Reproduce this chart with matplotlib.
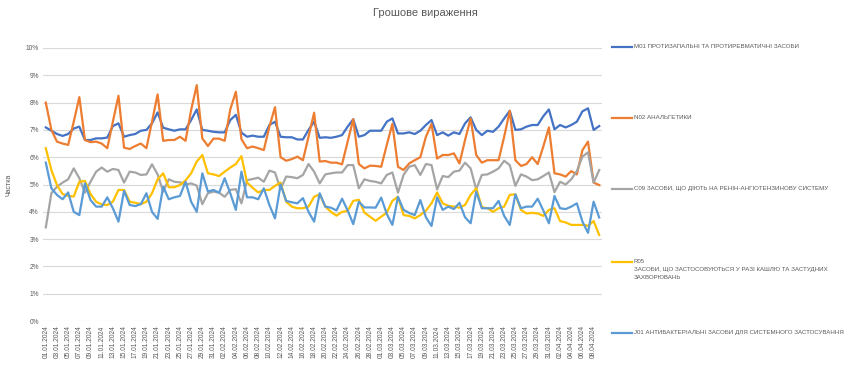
import matplotlib.pyplot as plt
import matplotlib.lines as mlines
import pandas as pd

plt.rcParams['font.family'] = ['Liberation Sans', 'DejaVu Sans']

# daily dates, 01.01.2024 - 09.04.2024
dates = pd.date_range('2024-01-01', '2024-04-09', freq='D')

m01 = [7.09, 6.97, 6.85, 6.78, 6.85, 7.05, 7.12, 6.63, 6.63, 6.69,
       6.69, 6.72, 7.14, 7.24, 6.75, 6.81, 6.85, 6.97, 7.00, 7.24,
       7.64, 7.08, 7.02, 6.97, 7.02, 7.02, 7.36, 7.75, 7.00, 6.97,
       6.93, 6.91, 6.91, 7.36, 7.55, 6.90, 6.75, 6.79, 6.75, 6.75,
       7.18, 7.30, 6.75, 6.73, 6.73, 6.65, 6.65, 7.00, 7.30, 6.71,
       6.73, 6.71, 6.75, 6.81, 7.12, 7.39, 6.75, 6.81, 6.97, 6.97,
       6.97, 7.30, 7.42, 6.87, 6.87, 6.91, 6.85, 6.97, 7.18, 7.36,
       6.81, 6.91, 6.79, 6.91, 6.85, 7.24, 7.46, 7.00, 6.81, 6.97,
       6.93, 7.12, 7.42, 7.70, 7.00, 7.02, 7.12, 7.18, 7.18, 7.50,
       7.75, 7.02, 7.18, 7.09, 7.18, 7.30, 7.68, 7.79, 7.00, 7.14]

n02 = [8.00, 7.00, 6.57, 6.50, 6.45, 7.30, 8.20, 6.63, 6.55, 6.57,
       6.50, 6.33, 7.30, 8.25, 6.35, 6.30, 6.41, 6.50, 6.33, 7.30,
       8.30, 6.60, 6.63, 6.63, 6.75, 6.60, 7.73, 8.64, 6.69, 6.41,
       6.68, 6.68, 6.60, 7.75, 8.40, 6.66, 6.33, 6.39, 6.33, 6.26,
       7.12, 7.83, 6.00, 5.87, 5.93, 6.02, 5.89, 6.75, 7.63, 5.84,
       5.86, 5.80, 5.80, 5.74, 6.57, 7.39, 5.75, 5.59, 5.69, 5.68,
       5.65, 6.45, 7.22, 5.65, 5.53, 5.77, 5.89, 6.00, 6.75, 7.22,
       5.95, 6.08, 6.08, 6.14, 5.77, 6.63, 7.42, 6.08, 5.80, 5.89,
       5.89, 5.89, 6.75, 7.70, 5.89, 5.68, 5.75, 6.00, 5.75, 6.39,
       7.09, 5.41, 5.37, 5.29, 5.49, 5.37, 6.26, 6.57, 5.07, 4.98]

c09 = [3.43, 4.68, 4.92, 5.07, 5.19, 5.59, 5.23, 4.70, 5.10, 5.47,
       5.62, 5.47, 5.57, 5.53, 5.07, 5.47, 5.44, 5.35, 5.37, 5.74,
       5.37, 4.74, 5.19, 5.10, 5.08, 5.00, 5.04, 4.96, 4.28, 4.68,
       4.74, 4.70, 4.55, 4.80, 4.83, 4.31, 5.16, 5.20, 5.25, 5.10,
       5.51, 5.44, 4.83, 5.29, 5.27, 5.23, 5.35, 5.75, 5.47, 5.04,
       5.37, 5.41, 5.44, 5.44, 5.71, 5.71, 4.86, 5.19, 5.13, 5.10,
       5.04, 5.35, 5.44, 4.70, 5.35, 5.65, 5.71, 5.35, 5.75, 5.71,
       4.82, 5.31, 5.27, 5.47, 5.51, 5.80, 5.59, 4.82, 5.35, 5.37,
       5.47, 5.59, 5.87, 5.71, 4.95, 5.37, 5.29, 5.16, 5.19, 5.31,
       5.44, 4.72, 5.10, 5.00, 5.19, 5.49, 6.02, 6.18, 5.07, 5.53]

r05 = [6.33, 5.53, 4.98, 4.65, 4.58, 4.56, 5.10, 5.13, 4.65, 4.37,
       4.27, 4.25, 4.37, 4.80, 4.80, 4.37, 4.33, 4.28, 4.37, 4.68,
       5.19, 5.41, 4.90, 4.90, 4.98, 5.15, 5.41, 5.84, 6.08, 5.41,
       5.37, 5.31, 5.47, 5.62, 5.75, 6.04, 5.07, 4.88, 4.71, 4.80,
       4.80, 4.95, 5.07, 4.37, 4.19, 4.13, 4.13, 4.19, 4.55, 4.64,
       4.19, 4.00, 3.86, 4.00, 4.03, 4.40, 4.44, 3.97, 3.82, 3.67,
       3.82, 3.97, 4.40, 4.55, 3.88, 3.85, 3.76, 3.88, 4.04, 4.31,
       4.71, 4.31, 4.22, 4.19, 4.15, 4.25, 4.62, 4.86, 4.17, 4.13,
       4.00, 4.13, 4.19, 4.62, 4.64, 4.07, 3.94, 3.96, 3.94, 3.85,
       4.07, 4.13, 3.66, 3.61, 3.52, 3.52, 3.52, 3.49, 3.66, 3.15]

j01 = [5.80, 4.86, 4.62, 4.46, 4.71, 4.00, 3.88, 5.04, 4.43, 4.19,
       4.19, 4.53, 4.13, 3.64, 4.77, 4.25, 4.21, 4.28, 4.68, 4.00,
       3.74, 4.92, 4.46, 4.53, 4.58, 5.10, 4.37, 4.00, 5.41, 4.74,
       4.80, 4.70, 5.23, 4.68, 4.07, 5.47, 4.53, 4.53, 4.46, 4.86,
       4.25, 3.76, 5.00, 4.40, 4.35, 4.31, 4.50, 4.00, 3.64, 4.68,
       4.19, 4.15, 4.05, 4.48, 4.05, 3.55, 4.37, 4.16, 4.16, 4.15,
       4.52, 3.92, 3.52, 4.55, 4.07, 3.96, 3.88, 4.43, 3.80, 3.48,
       4.53, 4.07, 4.19, 4.10, 4.33, 3.80, 3.58, 4.74, 4.13, 4.13,
       4.13, 4.40, 3.85, 3.52, 4.64, 4.13, 4.19, 4.19, 4.48, 4.05,
       3.58, 4.58, 4.13, 4.10, 4.19, 4.31, 3.64, 3.23, 4.37, 3.79]

labels = ['M01 ПРОТИЗАПАЛЬНІ ТА ПРОТИРЕВМАТИЧНІ ЗАСОБИ',
          'N02 АНАЛЬГЕТИКИ',
          'C09 ЗАСОБИ, ЩО ДІЮТЬ НА РЕНІН-АНГІОТЕНЗИНОВУ СИСТЕМУ',
          'R05\nЗАСОБИ, ЩО ЗАСТОСОВУЮТЬСЯ У РАЗІ КАШЛЮ ТА ЗАСТУДНИХ\nЗАХВОРЮВАНЬ',
          'J01 АНТИБАКТЕРІАЛЬНІ ЗАСОБИ ДЛЯ СИСТЕМНОГО ЗАСТОСУВАННЯ']
colors = ['#4472C4', '#ED7D31', '#A5A5A5', '#FFC000', '#5B9BD5']
series = [m01, n02, c09, r05, j01]

W, H = 850, 377
fig = plt.figure(figsize=(W / 100, H / 100), dpi=100)
ax = fig.add_axes([43 / W, 1 - 321 / H, (602 - 43) / W, (321 - 48) / H])

x = range(len(dates))
for vals, c in zip(series, colors):
    ax.plot(x, vals, color=c, lw=1.6, solid_joinstyle='round')

ax.set_xlim(-0.5, len(dates) - 0.5)
ax.set_ylim(0, 10)
ax.set_yticks(range(0, 11))
ax.set_yticklabels([f'{v}%' for v in range(0, 11)])
ax.set_xticks(list(x)[::2])
ax.set_xticklabels([d.strftime('%d.%m.%Y') for d in dates[::2]], rotation=90)
ax.tick_params(length=0, labelsize=4.8, colors='#595959', pad=3)
ax.grid(axis='y', color='#D9D9D9', lw=0.8)
ax.set_axisbelow(True)
for s in ax.spines.values():
    s.set_visible(False)

fig.text(425 / W, 1 - 13 / H, 'Грошове вираження', ha='center', va='center',
         fontsize=8, color='#595959')
fig.text(9 / W, 1 - 185 / H, 'Частка', rotation=90, ha='center', va='center',
         fontsize=5, color='#595959')

# legend drawn by hand on the right
leg_y = [47, 118, 189, 262, 333]
for lab, c, yy in zip(labels, colors, leg_y):
    fy = 1 - yy / H
    fig.add_artist(mlines.Line2D([612 / W, 632 / W], [fy, fy], color=c, lw=1.6))
    fig.text(634 / W, fy + 3.2 / H, lab, ha='left', va='top', fontsize=4.4,
             color='#595959', linespacing=1.75)

fig.savefig('out.png', dpi=100)
